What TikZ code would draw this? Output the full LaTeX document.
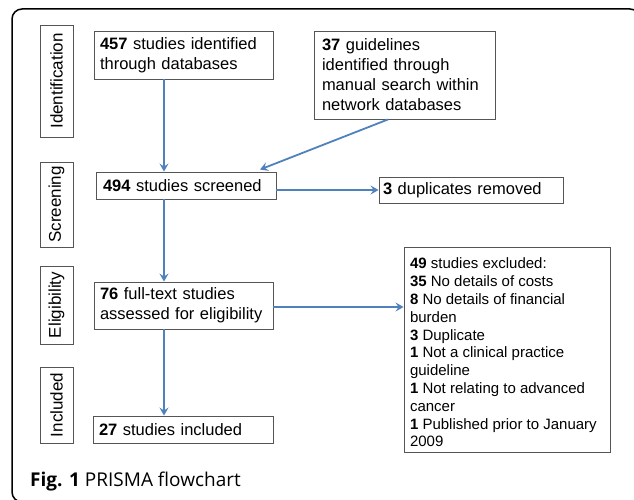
\documentclass[tikz,border=0pt]{standalone}
\usepackage{fontspec}
\setmainfont{Liberation Sans}
\newfontfamily\capfont{Open Sans}
\usetikzlibrary{arrows.meta,calc}
\definecolor{arrblue}{HTML}{4F81BD}
\definecolor{boxgray}{HTML}{555555}
\begin{document}
\begin{tikzpicture}[x=1pt,y=-1pt,
  bx/.style={draw=boxgray,line width=0.9pt,rectangle,inner ysep=0pt,align=left,
    font=\fontsize{16.5}{20}\selectfont,anchor=center},
  side/.style={draw=boxgray,line width=0.9pt,rectangle,rotate=90,inner sep=0pt,
    minimum height=33pt,font=\fontsize{17}{20}\selectfont},
  arr/.style={draw=arrblue,line width=1.8pt,-{Stealth[length=8pt,width=9pt,inset=3pt]}}]
\useasboundingbox (0,0) rectangle (634,500);
\begin{scope}
\clip (0,0) rectangle (634,500);
\draw[line width=1.5pt,rounded corners=10pt] (12,9) rectangle (640,502);
\end{scope}
% side labels
\node[side,minimum width=112pt] (sid) at (56.5,81) {Identification};
\node[side,minimum width=85pt] (ssc) at (56.5,204.5) {Screening};
\node[side,minimum width=78pt] (sel) at (56.5,305) {Eligibility};
\node[side,minimum width=76pt] (sin) at (56.5,405) {Included};
% boxes
\node[bx,inner xsep=6pt,text width=167pt,minimum height=48pt] (n457) at (183.5,55)
  {\textbf{457} studies identified\\through databases};
\node[bx,inner xsep=8pt,text width=165pt,minimum height=88pt] (n37) at (404.5,75)
  {\textbf{37} guidelines\\identified through\\manual search within\\network databases};
\node[bx,inner xsep=7pt,text width=166pt,minimum height=27pt] (n494) at (186,185.5)
  {\textbf{494} studies screened};
\node[bx,inner xsep=4pt,text width=176pt,minimum height=26pt] (ndup) at (471,190)
  {\textbf{3} duplicates removed};
\node[bx,inner xsep=6pt,text width=167pt,minimum height=47pt] (n76) at (183.5,305.5)
  {\textbf{76} full-text studies\\assessed for eligibility};
\node[bx,inner xsep=6pt,text width=168pt,minimum height=27pt] (n27) at (183,429.5)
  {\textbf{27} studies included};
\node[draw=boxgray,line width=0.9pt,rectangle,inner xsep=6pt,inner ysep=0pt,
  minimum height=205pt,anchor=center] (n49) at (507,349.5)
  {\raisebox{-3pt}[\height][\depth]{\parbox{194pt}{\raggedright\fontsize{15}{17.8}\selectfont
  \textbf{49} studies excluded:\\\textbf{35} No details of costs\\\textbf{8} No details of financial\\burden\\\textbf{3} Duplicate\\\textbf{1} Not a clinical practice\\guideline\\\textbf{1} Not relating to advanced\\cancer\\\textbf{1} Published prior to January\\2009}}};
% arrow guide coordinates
\coordinate (ax) at (164,0);
\coordinate (c1) at (388,0);
\coordinate (c2) at (260,0);
% connectors
\draw[arr] (n457.south -| ax) -- (n494.north -| ax);
\draw[arr] (n37.south -| c1) -- ($(n494.north -| c2)+(0,-2)$);
\draw[arr] (n494.east |- ndup.west) -- (ndup.west);
\draw[arr] (n494.south -| ax) -- (n76.north -| ax);
\draw[arr] (n76.east |- 0,307) -- (n49.west |- 0,307);
\draw[arr] (n76.south -| ax) -- (n27.north -| ax);
% caption
\node[anchor=base west,inner sep=0pt,font=\capfont\fontsize{19}{22}\selectfont] (cap) at (30,486)
  {\textbf{Fig. 1} PRISMA flowchart};
\end{tikzpicture}
\end{document}
